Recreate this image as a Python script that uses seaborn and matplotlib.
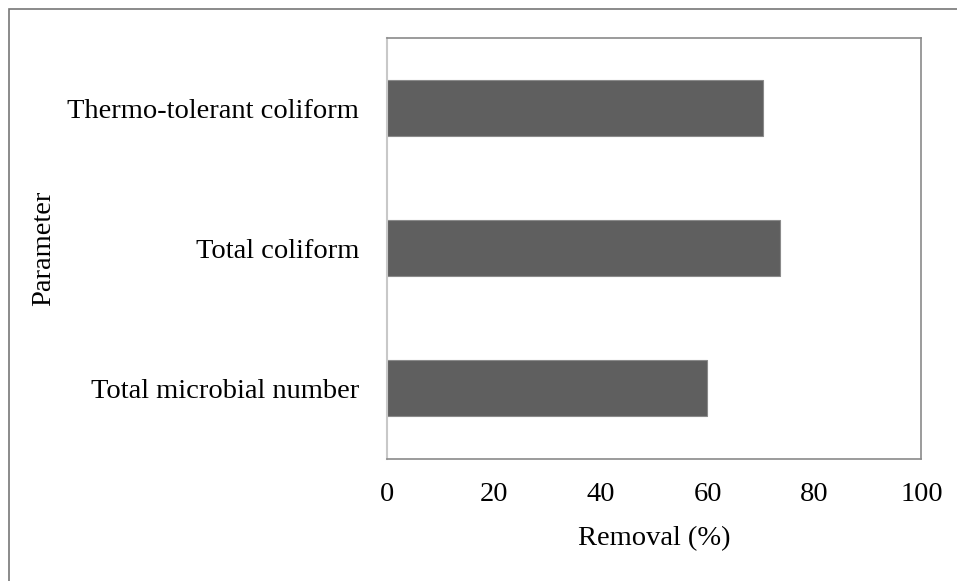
import matplotlib
matplotlib.use("Agg")
import matplotlib.pyplot as plt
import seaborn as sns
import pandas as pd
from matplotlib.patches import Rectangle

# Datos
parametros = ["Thermo-tolerant coliform", "Total coliform", "Total microbial number"]
remocion = [70.4, 73.6, 59.9]

df = pd.DataFrame({"Parameter": parametros, "Removal": remocion})

sns.set_style("white")
plt.rcParams["font.family"] = ["Liberation Serif", "DejaVu Serif"]

fig = plt.figure(figsize=(9.57, 5.81), dpi=100)
ax = fig.add_axes([0.4044, 0.2108, 0.5585, 0.7238])

sns.barplot(data=df, x="Removal", y="Parameter", order=parametros, color="#5f5f5f",
            width=0.4, edgecolor="#8a8a8a", linewidth=0.8, saturation=1, ax=ax)

ax.set_xlim(0, 100)
ax.set_xticks([0, 20, 40, 60, 80, 100])
ax.tick_params(axis="both", length=0, labelsize=20.5, colors="black")
ax.tick_params(axis="x", pad=17)
ax.tick_params(axis="y", pad=20)
ax.set_xlabel("Removal (%)", fontsize=20.5, labelpad=14, color="black")
ax.set_ylabel("Parameter", fontsize=20.5, labelpad=8, color="black")

for lado in ["top", "right", "bottom"]:
    ax.spines[lado].set_color("#8a8a8a")
    ax.spines[lado].set_linewidth(1.2)
ax.spines["left"].set_color("#c8c8c8")
ax.spines["left"].set_linewidth(1.5)

# Marco exterior
fig.patches.append(Rectangle((8.5 / 957, -0.1), 1.2, 1 - 8.5 / 581 + 0.1,
                             transform=fig.transFigure, fill=False,
                             edgecolor="#777777", linewidth=1.2))

fig.savefig("out.png", dpi=100)
plt.close()
